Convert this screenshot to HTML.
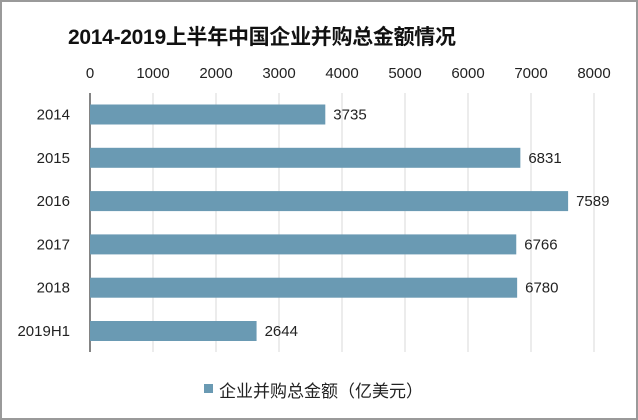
<!DOCTYPE html>
<html><head><meta charset="utf-8"><style>
html,body{margin:0;padding:0;background:#fff}
body{width:638px;height:420px;overflow:hidden;position:relative;font-family:"Liberation Sans","Noto Sans CJK SC",sans-serif}
.frame{position:absolute;left:0;top:0;width:634px;height:416px;border:2px solid #9a9a9a}
</style></head><body>
<div class="frame"></div>
<svg id="chart" width="638" height="420" style="position:absolute;left:0;top:0">
<text x="68" y="44" font-size="21" font-weight="bold" fill="#111" font-family="Liberation Sans,Noto Sans CJK SC,sans-serif" textLength="388" lengthAdjust="spacing">2014-2019上半年中国企业并购总金额情况</text>
<g id="grid"></g><g id="bars"></g><g id="labels"></g>
<rect x="204" y="384" width="9" height="9" fill="#6a9ab3"/>
<text x="219" y="397" font-size="17" fill="#222">企业并购总金额（亿美元）</text>
</svg>
<script>
const categories=["2014","2015","2016","2017","2018","2019H1"];
const values=[3735,6831,7589,6766,6780,2644];
const ticks=[0,1000,2000,3000,4000,5000,6000,7000,8000];
const NS="http://www.w3.org/2000/svg";
const x0=90,x1=594,max=8000;
const xs=v=>x0+(x1-x0)*v/max;
const yc=i=>114.5+43.3*i;
function mk(tag,attrs,parent,txt){const e=document.createElementNS(NS,tag);for(const k in attrs)e.setAttribute(k,attrs[k]);if(txt!==undefined)e.textContent=txt;document.getElementById(parent).appendChild(e);return e;}
ticks.forEach(t=>{
  if(t>0){const l=mk('line',{x1:xs(t),x2:xs(t),y1:93,y2:352,stroke:'#d9d9d9','stroke-width':1},'grid');
  
  }
  const tx=mk('text',{x:xs(t),y:78,'text-anchor':'middle','font-size':15,fill:'#222'},'labels',String(t));
  
  
});
const ax=mk('line',{x1:x0,x2:x0,y1:93,y2:352,stroke:'#333','stroke-width':1.2},'grid');


categories.forEach((c,i)=>{
  const r=mk('rect',{x:x0,y:yc(i)-10,width:xs(values[i])-x0,height:20,fill:'#6a9ab3'},'bars');
  
  
  const cl=mk('text',{x:70,y:yc(i)+5,'text-anchor':'end','font-size':15,fill:'#222'},'labels',c);
  
  
  const vl=mk('text',{x:xs(values[i])+8,y:yc(i)+5,'font-size':15,fill:'#222'},'labels',String(values[i]));
  
  
});
</script>
</body></html>
